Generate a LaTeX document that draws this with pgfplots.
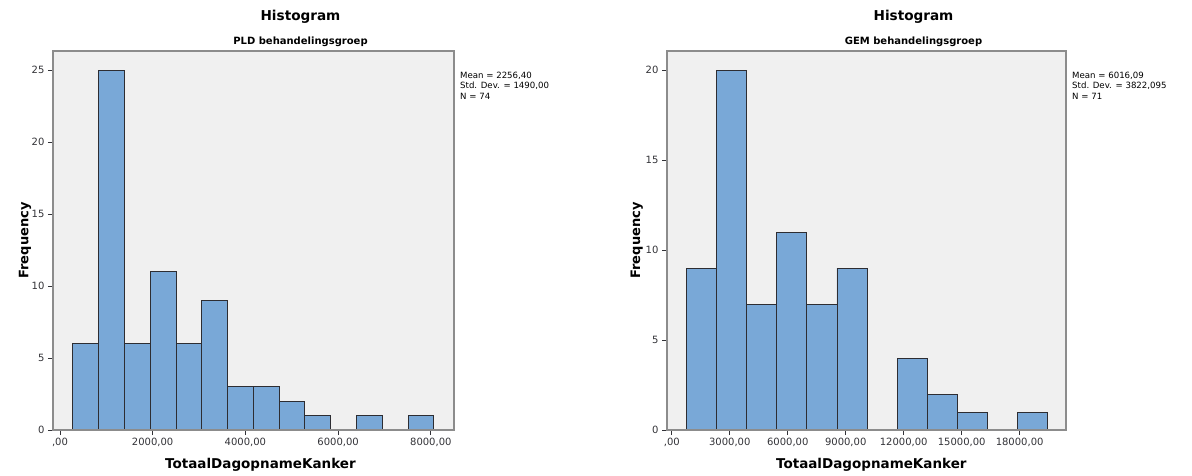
\documentclass[border=0pt]{standalone}
\usepackage{pgfplots}
\pgfplotsset{compat=1.18}
\usepackage{fontspec}
\setmainfont{DejaVu Sans}
\definecolor{barblue}{RGB}{121,168,215}
\definecolor{baredge}{RGB}{45,45,50}
\definecolor{bggray}{RGB}{240,240,240}
\definecolor{framegray}{RGB}{140,140,140}
\definecolor{tickgray}{RGB}{50,50,55}
\pgfplotsset{
  hist/.style={
    scale only axis,
    anchor=south west,
    height=379pt,
    ymin=0,
    ybar,
    axis on top,
    clip=false,
    scaled x ticks=false,
    scaled y ticks=false,
    axis background/.style={fill=bggray},
    axis line style={draw=framegray, line width=1.5pt},
    tick align=outside,
    xtick pos=bottom,
    ytick pos=left,
    major tick length=5pt,
    tick style={draw=tickgray, line width=0.8pt},
    ticklabel style={font=\fontsize{10}{12}\selectfont, text=tickgray},
    /pgf/number format/assume math mode=true,
  },
  histbar/.style={ybar, fill=barblue, draw=baredge, line width=0.9pt},
}
\begin{document}
\begin{tikzpicture}[x=1pt,y=1pt]
\useasboundingbox (0,0) rectangle (1192,475);
% ---------------- left: PLD ----------------
\begin{axis}[hist,
  at={(53pt,45pt)}, width=401pt,
  xmin=-150, xmax=8500, ymax=26.32,
  bar width=556,
  ytick={0,5,10,15,20,25},
  xtick={0,2000,4000,6000,8000},
  xticklabels={{,00},{2000,00},{4000,00},{6000,00},{8000,00}},
]
\addplot[histbar] coordinates {
 (558,6) (1114,25) (1670,6) (2226,11) (2782,6) (3338,9) (3894,3)
 (4450,3) (5006,2) (5562,1) (6674,1) (7786,1)
};
\node[font=\bfseries\fontsize{13.6}{16}\selectfont] at ([xshift=47pt,yshift=34pt]rel axis cs:0.5,1) {Histogram};
\node[font=\bfseries\fontsize{10}{12}\selectfont] at ([xshift=47pt,yshift=9pt]rel axis cs:0.5,1) {PLD behandelingsgroep};
\node[anchor=north west, align=left, inner sep=0pt, font=\fontsize{8.6}{10.4}\selectfont] at ([xshift=6pt,yshift=-21pt]rel axis cs:1,1) {Mean = 2256,40\\Std. Dev. = 1490,00\\N = 74};
\path (rel axis cs:0.5,0) ++(0,-35pt) node[font=\bfseries\fontsize{13.5}{16}\selectfont] {TotaalDagopnameKanker};
\path (rel axis cs:0,0.5) ++(-35pt,0) node[rotate=90, font=\bfseries\fontsize{13}{16}\selectfont] {Frequency};
\end{axis}
% ---------------- right: GEM ----------------
\begin{axis}[hist,
  at={(667pt,45pt)}, width=399pt,
  xmin=-250, xmax=20400, ymax=21.06,
  bar width=1557.5,
  ytick={0,5,10,15,20},
  xtick={0,3000,6000,9000,12000,15000,18000},
  xticklabels={{,00},{3000,00},{6000,00},{9000,00},{12000,00},{15000,00},{18000,00}},
]
\addplot[histbar] coordinates {
 (1538.75,9) (3096.25,20) (4653.75,7) (6211.25,11) (7768.75,7) (9326.25,9)
 (12441.25,4) (13998.75,2) (15556.25,1) (18671.25,1)
};
\node[font=\bfseries\fontsize{13.6}{16}\selectfont] at ([xshift=47pt,yshift=34pt]rel axis cs:0.5,1) {Histogram};
\node[font=\bfseries\fontsize{10}{12}\selectfont] at ([xshift=47pt,yshift=9pt]rel axis cs:0.5,1) {GEM behandelingsgroep};
\node[anchor=north west, align=left, inner sep=0pt, font=\fontsize{8.6}{10.4}\selectfont] at ([xshift=6pt,yshift=-21pt]rel axis cs:1,1) {Mean = 6016,09\\Std. Dev. = 3822,095\\N = 71};
\path (rel axis cs:0.5,0) ++(0,-35pt) node[font=\bfseries\fontsize{13.5}{16}\selectfont] {TotaalDagopnameKanker};
\path (rel axis cs:0,0.5) ++(-35pt,0) node[rotate=90, font=\bfseries\fontsize{13}{16}\selectfont] {Frequency};
\end{axis}
\end{tikzpicture}
\end{document}
